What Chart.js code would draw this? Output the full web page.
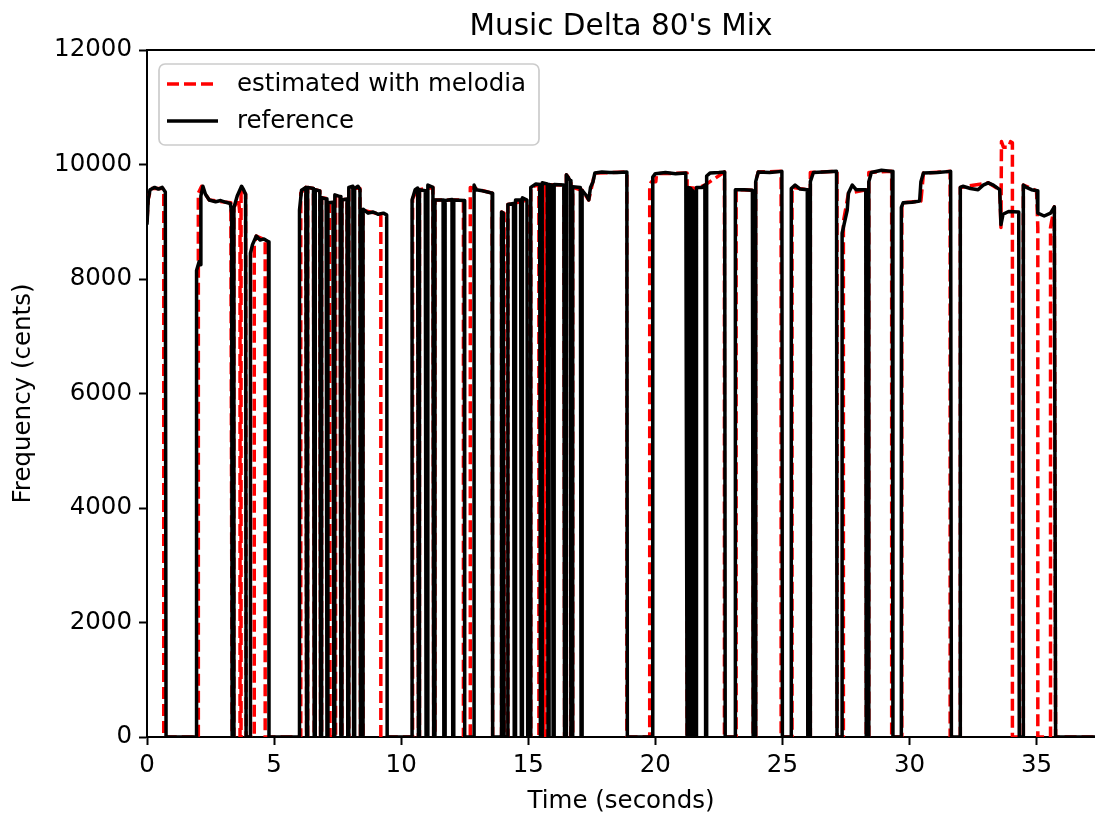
<!DOCTYPE html>
<html>
<head>
<meta charset="utf-8">
<script src="https://cdn.jsdelivr.net/npm/chart.js@4/dist/chart.umd.min.js"></script>
<style>
  body { margin: 0; background: #fff; }
  #wrap { width: 1095px; height: 818px; }
</style>
</head>
<body>
<div id="wrap"><canvas id="grafico" width="1095" height="818"></canvas></div>
<script>
var Titulo = "Music Delta 80's Mix";
var LabelX = "Time (seconds)";
var LabelY = "Frequency (cents)";
var NomeEstimado = "estimated with melodia";
var NomeReferencia = "reference";

var TicksX = [0, 5, 10, 15, 20, 25, 30, 35];
var TicksY = [0, 2000, 4000, 6000, 8000, 10000, 12000];

// reference melody (seconds, cents)
var RefTempo = [
  0, 0.05, 0.12, 0.3, 0.45, 0.6, 0.72, 0.75, 1.95,
  1.95, 2.05, 2.1, 2.12, 2.2, 2.3, 2.45, 2.7, 2.9, 3.1, 3.28, 3.33, 3.35, 3.42,
  3.42, 3.55, 3.72, 3.8, 3.88, 3.9, 4.07,
  4.07, 4.15, 4.3, 4.45, 4.6, 4.78, 4.8, 6.0,
  6.0, 6.08, 6.25, 6.28, 6.32, 6.32, 6.55, 6.58, 6.62, 6.62, 6.8, 6.83, 6.87,
  6.87, 7.05, 7.08, 7.12, 7.12, 7.32, 7.35, 7.39, 7.39, 7.6, 7.63, 7.67,
  7.67, 7.87, 7.9, 7.94, 7.94, 8.1, 8.13, 8.17, 8.17, 8.3, 8.38, 8.4, 8.5,
  8.5, 8.7, 8.9, 9.1, 9.3, 9.43, 9.45, 10.43,
  10.43, 10.55, 10.65, 10.68, 10.72, 10.72, 10.95, 10.98, 11.05, 11.05, 11.25, 11.28, 11.33,
  11.33, 11.65, 11.68, 11.73, 11.73, 12.0, 12.03, 12.07, 12.07, 12.48, 12.5, 12.87,
  12.87, 12.95, 13.2, 13.4, 13.58, 13.6, 13.95, 13.95, 14.02, 14.05, 14.2,
  14.2, 14.42, 14.45, 14.5, 14.5, 14.7, 14.73, 14.77, 14.77, 14.95, 14.98, 15.1,
  15.1, 15.3, 15.45, 15.48, 15.55, 15.55, 15.75, 15.78, 15.82, 15.82, 15.95, 15.98, 16.02,
  16.02, 16.4, 16.43, 16.5, 16.5, 16.65, 16.68, 16.75, 16.75, 17.05, 17.08, 17.12,
  17.12, 17.3, 17.38, 17.45, 17.55, 17.62, 17.9, 18.2, 18.5, 18.88, 18.9, 19.9,
  19.9, 20.0, 20.4, 20.8, 21.2, 21.25, 21.3, 21.3, 21.38, 21.4, 21.45, 21.45, 21.52, 21.55, 21.62,
  21.62, 21.85, 21.95, 21.98, 22.02, 22.02, 22.15, 22.5, 22.73, 22.75, 23.15,
  23.15, 23.5, 23.82, 23.85, 23.95, 23.95, 24.05, 24.5, 24.98, 25.0, 25.35,
  25.35, 25.5, 25.7, 25.98, 26.0, 26.1, 26.1, 26.22, 26.6, 27.13, 27.15, 27.35,
  27.35, 27.55, 27.6, 27.75, 27.9, 28.28, 28.3, 28.4, 28.4, 28.5, 28.9, 29.32, 29.35, 29.68,
  29.68, 29.75, 30.1, 30.4, 30.45, 30.55, 31.1, 31.62, 31.65, 32.0,
  32.0, 32.1, 32.4, 32.7, 32.9, 33.1, 33.3, 33.55, 33.6, 33.68, 33.9, 34.3, 34.32, 34.48,
  34.48, 34.6, 34.8, 35.02, 35.05, 35.3, 35.55, 35.7, 35.75, 37.3
];
var RefCents = [
  8950, 9400, 9560, 9600, 9570, 9600, 9520, 0, 0,
  8150, 8300, 8250, 9450, 9620, 9480, 9380, 9350, 9370, 9340, 9320, 9150, 0, 0,
  9250, 9450, 9620, 9560, 9480, 0, 0,
  8450, 8600, 8750, 8680, 8700, 8650, 0, 0,
  9200, 9550, 9600, 0, 0, 9600, 9580, 0, 0, 9560, 9540, 0, 0,
  9420, 9400, 0, 0, 9330, 9340, 0, 0, 9470, 9440, 0, 0,
  9380, 9400, 0, 0, 9600, 9620, 0, 0, 9580, 9620, 9560, 0, 0,
  9220, 9150, 9170, 9130, 9150, 9120, 0, 0,
  9380, 9560, 9590, 0, 0, 9560, 9540, 0, 0, 9640, 9600, 0, 0,
  9380, 9380, 0, 0, 9370, 9390, 0, 0, 9380, 9370, 0, 0,
  9640, 9560, 9540, 9520, 9500, 0, 0, 9170, 9150, 0, 0,
  9300, 9320, 0, 0, 9380, 9380, 0, 0, 9420, 9380, 0, 0,
  9600, 9660, 9650, 0, 0, 9680, 9660, 0, 0, 9650, 9640, 0, 0,
  9650, 9640, 0, 0, 9820, 9720, 0, 0, 9610, 9600, 0, 0,
  9550, 9450, 9380, 9600, 9700, 9850, 9870, 9860, 9860, 9870, 0, 0,
  9780, 9840, 9860, 9840, 9850, 0, 0, 9600, 9580, 0, 0, 9550, 9520, 0, 0,
  9600, 9600, 9640, 0, 0, 9800, 9850, 9860, 9870, 0, 0,
  9560, 9560, 9550, 0, 0, 9700, 9870, 9860, 9880, 0, 0,
  9580, 9640, 9570, 9560, 0, 0, 9700, 9860, 9870, 9880, 0, 0,
  8800, 9200, 9500, 9640, 9560, 9560, 0, 0, 9700, 9860, 9900, 9880, 0, 0,
  9250, 9330, 9340, 9360, 9700, 9850, 9860, 9880, 0, 0,
  9600, 9620, 9580, 9560, 9640, 9680, 9640, 9560, 8950, 9130, 9180, 9170, 0, 0,
  9640, 9600, 9560, 9540, 9150, 9100, 9150, 9260, 0, 0
];

// melodia estimate (seconds, cents)
var EstTempo = [
  0, 0.05, 0.15, 0.62, 0.66, 0.66, 2.02,
  2.02, 2.15, 2.3, 2.45, 3.3, 3.35, 3.42,
  3.42, 3.6, 3.66, 3.66, 3.7, 3.7, 3.88, 3.9, 4.22,
  4.22, 4.3, 4.65, 4.65, 6.05,
  6.05, 6.25, 6.28, 6.32, 6.32, 6.55, 6.58, 6.62, 6.62, 6.8, 6.83, 6.87,
  6.87, 7.18, 7.2, 7.42, 7.42, 7.6, 7.63, 7.67, 7.67, 7.87, 7.9, 7.94,
  7.94, 8.38, 8.4, 8.5, 8.5, 9.2, 9.2, 10.45,
  10.45, 10.65, 10.68, 10.72, 10.72, 11.25, 11.28, 11.33, 11.33, 12.45, 12.45, 12.72,
  12.72, 13.58, 13.6, 13.95, 13.95, 14.05, 14.05, 14.2, 14.2, 14.98, 14.98, 15.1,
  15.1, 15.42, 15.42, 15.5, 15.5, 15.62, 15.62, 15.68, 15.68, 16.4, 16.43, 16.5,
  16.5, 16.68, 16.68, 16.75, 16.75, 17.12, 17.38, 17.62, 18.88, 18.88, 19.78,
  19.78, 19.85, 20.02, 20.05, 21.25, 21.25, 21.3, 21.3, 21.62, 21.95, 22.72, 22.72, 23.18,
  23.18, 23.85, 23.85, 23.95, 23.95, 24.05, 24.95, 24.95, 25.38,
  25.38, 26.0, 26.0, 26.1, 26.1, 27.15, 27.15, 27.4,
  27.4, 27.6, 28.3, 28.3, 28.4, 28.4, 29.3, 29.3, 29.7,
  29.7, 30.45, 30.55, 31.6, 31.6, 32.0,
  32.0, 33.1, 33.55, 33.6, 33.62, 33.7, 33.9, 33.98, 34.05, 34.05, 34.48,
  34.48, 35.0, 35.05, 35.05, 35.55, 35.55, 35.7, 35.75, 37.3
];
var EstCents = [
  9000, 9400, 9580, 9580, 9500, 0, 0,
  9500, 9620, 9480, 9380, 9330, 0, 0,
  9250, 9400, 9100, 0, 0, 9600, 9480, 0, 0,
  8600, 8750, 8680, 0, 0,
  9500, 9600, 0, 0, 9600, 9580, 0, 0, 9560, 9540, 0, 0,
  9420, 9400, 0, 0, 9470, 9440, 0, 0, 9380, 9400, 0, 0,
  9600, 9580, 0, 0, 9200, 9130, 0, 0,
  9400, 9590, 0, 0, 9560, 9600, 0, 0, 9380, 9380, 0, 0,
  9600, 9500, 0, 0, 9170, 9150, 0, 0, 9300, 9380, 0, 0,
  9600, 9650, 0, 0, 9650, 9660, 0, 0, 9650, 9640, 0, 0,
  9820, 9720, 0, 0, 9600, 9550, 9380, 9850, 9870, 0, 0,
  9650, 9700, 9700, 9840, 9850, 0, 0, 9600, 9580, 9640, 9870, 0, 0,
  9560, 9550, 0, 0, 9700, 9870, 9880, 0, 0,
  9600, 9560, 0, 0, 9860, 9880, 0, 0,
  9000, 9500, 9560, 0, 0, 9860, 9880, 0, 0,
  9330, 9360, 9850, 9880, 0, 0,
  9600, 9680, 9560, 8900, 10400, 10300, 10300, 10400, 10380, 0, 0,
  9640, 9540, 8900, 0, 0, 8900, 9260, 0, 0
];

function Pontos(tempo, cents) {
  var lista = [];
  for (var i = 0; i < tempo.length; i++) {
    lista.push({ x: tempo[i], y: cents[i] });
  }
  return lista;
}

var Fonte = "'DejaVu Sans', sans-serif";
var TamTexto = 24.5;

// title, legend box and top spine, drawn the matplotlib way
var Extras = {
  id: 'extras',
  afterDraw: function (chart) {
    var ctx = chart.ctx;
    var area = chart.chartArea;
    ctx.save();

    ctx.strokeStyle = '#000';
    ctx.lineWidth = 2;
    ctx.beginPath();
    ctx.moveTo(area.left, area.top);
    ctx.lineTo(area.right, area.top);
    ctx.stroke();

    ctx.fillStyle = '#000';
    ctx.font = "29.5px " + Fonte;
    ctx.textAlign = 'center';
    ctx.textBaseline = 'middle';
    ctx.fillText(Titulo, (area.left + area.right) / 2, 27);

    ctx.beginPath();
    ctx.roundRect(159, 64, 380, 81, 6);
    ctx.fillStyle = 'rgba(255,255,255,0.8)';
    ctx.fill();
    ctx.strokeStyle = '#cccccc';
    ctx.lineWidth = 1.7;
    ctx.stroke();

    ctx.lineWidth = 3.5;
    ctx.strokeStyle = '#ff0000';
    ctx.setLineDash([12, 5]);
    ctx.beginPath();
    ctx.moveTo(167, 84);
    ctx.lineTo(218, 84);
    ctx.stroke();
    ctx.setLineDash([]);
    ctx.strokeStyle = '#000';
    ctx.beginPath();
    ctx.moveTo(167, 121);
    ctx.lineTo(218, 121);
    ctx.stroke();

    ctx.fillStyle = '#000';
    ctx.font = TamTexto + "px " + Fonte;
    ctx.textAlign = 'left';
    ctx.fillText(NomeEstimado, 237, 85);
    ctx.fillText(NomeReferencia, 237, 122);
    ctx.restore();
  }
};

new Chart(document.getElementById("grafico"), {
  type: 'line',
  data: {
    datasets: [{
      label: NomeEstimado,
      data: Pontos(EstTempo, EstCents),
      borderColor: '#ff0000',
      borderWidth: 3.5,
      borderDash: [12, 5],
      borderJoinStyle: 'round',
      pointRadius: 0,
      tension: 0,
      fill: false,
      order: 2
    }, {
      label: NomeReferencia,
      data: Pontos(RefTempo, RefCents),
      borderColor: '#000000',
      borderWidth: 3.5,
      borderJoinStyle: 'round',
      pointRadius: 0,
      tension: 0,
      fill: false,
      order: 1
    }]
  },
  options: {
    responsive: false,
    animation: false,
    events: [],
    layout: { padding: { top: 50, right: 0, left: 0, bottom: 0 } },
    plugins: {
      legend: { display: false },
      title: { display: false },
      tooltip: { enabled: false }
    },
    scales: {
      x: {
        type: 'linear',
        min: 0,
        max: 37.3,
        afterFit: function (s) { s.height = 81; },
        afterBuildTicks: function (s) { s.ticks = TicksX.map(function (v) { return { value: v }; }); },
        grid: { drawOnChartArea: false, drawTicks: true, tickLength: 8, tickColor: '#000', tickWidth: 2 },
        border: { display: true, color: '#000', width: 2 },
        ticks: {
          color: '#000', padding: 6, maxRotation: 0, font: { family: Fonte, size: TamTexto },
          callback: function (v) { return String(v); }
        },
        title: { display: true, text: LabelX, color: '#000', padding: { top: 0, bottom: 2 }, font: { family: Fonte, size: TamTexto } }
      },
      y: {
        min: 0,
        max: 12000,
        afterFit: function (s) { s.width = 147; },
        afterBuildTicks: function (s) { s.ticks = TicksY.map(function (v) { return { value: v }; }); },
        grid: { drawOnChartArea: false, drawTicks: true, tickLength: 8, tickColor: '#000', tickWidth: 2 },
        border: { display: true, color: '#000', width: 2 },
        ticks: {
          color: '#000', padding: 7, font: { family: Fonte, size: TamTexto },
          callback: function (v) { return String(v); }
        },
        title: { display: true, text: LabelY, color: '#000', padding: { top: 9, bottom: 0 }, font: { family: Fonte, size: TamTexto } }
      }
    }
  },
  plugins: [Extras]
});
</script>
</body>
</html>
